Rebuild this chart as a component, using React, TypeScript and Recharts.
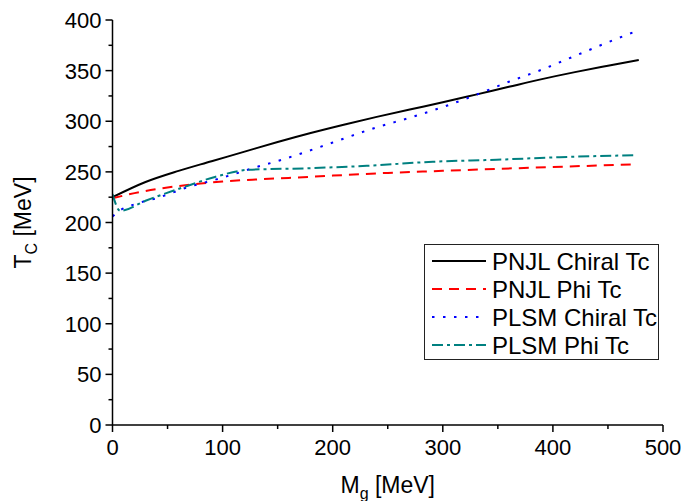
import React from 'react';
import { LineChart, Line, XAxis, YAxis } from 'recharts';

// ---- Data ----
const pnjlChiralX = [0, 30, 60, 90, 120, 150, 180, 210, 240, 270, 300, 330, 360, 390, 420, 450, 478];
const pnjlChiralY = [225, 240, 251, 260.5, 270, 279.5, 288.4, 296.6, 304.3, 311.6, 318.7, 326.3, 334, 341.6, 348.5, 354.8, 360.5];

const pnjlPhiX = [0, 20, 40, 60, 80, 100, 130, 160, 200, 250, 300, 350, 400, 474];
const pnjlPhiY = [224, 229, 233, 236, 238.5, 240.5, 242.5, 244, 246.3, 249, 251, 253, 254.8, 257.5];

const plsmChiralX = [0, 7, 20, 40, 70, 90, 110, 130, 150, 170, 200, 240, 270, 300, 330, 360, 390, 420, 450, 478];
const plsmChiralY = [206, 212, 218, 224, 235.4, 241.3, 247.6, 254.5, 260.7, 267.7, 279, 294, 303.5, 314, 326, 339, 351, 364.5, 378, 390];

const plsmPhiX = [0, 7, 30, 65, 93, 123, 175, 231, 291, 349, 406, 476];
const plsmPhiY = [228, 211.5, 221.5, 235, 245, 252, 253.5, 256, 260, 262, 264.5, 266.5];

const xTicks = [0, 50, 100, 150, 200, 250, 300, 350, 400, 450, 500];
const yTicks = [0, 25, 50, 75, 100, 125, 150, 175, 200, 225, 250, 275, 300, 325, 350, 375, 400];

const seriesNames = ['PNJL Chiral Tc', 'PNJL Phi Tc', 'PLSM Chiral Tc', 'PLSM Phi Tc'];

const toPoints = (xs: number[], ys: number[]) => xs.map((x, i) => ({ x, y: ys[i] }));

const FONT = '"Liberation Sans", Arial, sans-serif';

const styles = [
  { color: '#000000', dash: undefined as string | undefined },
  { color: '#ff0000', dash: '10 7' },
  { color: '#0000ff', dash: '2.5 8.5' },
  { color: '#008080', dash: '11 4 3 4' },
];

const XTick = (props: any) => {
  const { x, y, payload } = props;
  const major = payload.value % 100 === 0;
  return (
    <g>
      <line x1={x} x2={x} y1={y} y2={y + (major ? 7 : 4)} stroke="#000" strokeWidth={1.5} />
      {major && (
        <text x={x} y={y + 30} textAnchor="middle" fontFamily={FONT} fontSize={22} fill="#000">
          {payload.value}
        </text>
      )}
    </g>
  );
};

const YTick = (props: any) => {
  const { x, y, payload } = props;
  const major = payload.value % 50 === 0;
  return (
    <g>
      <line x1={x} x2={x - (major ? 7 : 4)} y1={y} y2={y} stroke="#000" strokeWidth={1.5} />
      {major && (
        <text x={x - 11} y={y + 8} textAnchor="end" fontFamily={FONT} fontSize={22} fill="#000">
          {payload.value}
        </text>
      )}
    </g>
  );
};

const YTitle = (props: any) => {
  const vb = props.viewBox || { x: 0, y: 0, width: 0, height: 0 };
  const cx = 31;
  const cy = vb.y + vb.height / 2;
  return (
    <text
      x={cx}
      y={cy}
      textAnchor="middle"
      transform={`rotate(-90, ${cx}, ${cy})`}
      fontFamily={FONT}
      fontSize={23}
      fill="#000"
    >
      T<tspan dy={6} fontSize={16}>C</tspan>
      <tspan dy={-6}> [MeV]</tspan>
    </text>
  );
};

const XTitle = (props: any) => {
  const vb = props.viewBox || { x: 0, y: 0, width: 0, height: 0 };
  const cx = vb.x + vb.width / 2;
  return (
    <text x={cx} y={493} textAnchor="middle" fontFamily={FONT} fontSize={23} fill="#000">
      M<tspan dy={6} fontSize={16}>g</tspan>
      <tspan dy={-6}> [MeV]</tspan>
    </text>
  );
};

const LegendBox = () => (
  <div
    style={{
      position: 'absolute',
      left: 424,
      top: 244,
      width: 235,
      height: 116,
      boxSizing: 'border-box',
      border: '1px solid #222',
      background: '#fff',
    }}
  >
    <svg width={233} height={114} style={{ display: 'block' }}>
      {seriesNames.map((name, i) => {
        const cy = 16 + i * 28;
        return (
          <g key={name}>
            <line
              x1={7}
              x2={61}
              y1={cy}
              y2={cy}
              stroke={styles[i].color}
              strokeWidth={2}
              strokeDasharray={styles[i].dash}
            />
            <text x={67} y={cy + 8.5} fontFamily={FONT} fontSize={24} fill="#000">
              {name}
            </text>
          </g>
        );
      })}
    </svg>
  </div>
);

const seriesData = [
  toPoints(pnjlChiralX, pnjlChiralY),
  toPoints(pnjlPhiX, pnjlPhiY),
  toPoints(plsmChiralX, plsmChiralY),
  toPoints(plsmPhiX, plsmPhiY),
];

export default function App() {
  return (
    <div style={{ position: 'absolute', left: 0, top: 0, width: 681, height: 501, background: '#fff' }}>
      <LineChart width={681} height={501} margin={{ top: 20, right: 18, bottom: 46, left: 52.5 }}>
        <XAxis
          type="number"
          dataKey="x"
          domain={[0, 500]}
          ticks={xTicks}
          interval={0}
          height={30}
          tickSize={0}
          tickMargin={0}
          tickLine={false}
          tick={<XTick />}
          axisLine={{ stroke: '#000', strokeWidth: 1.5 }}
          allowDataOverflow
          label={{ content: <XTitle /> }}
        />
        <YAxis
          type="number"
          dataKey="y"
          domain={[0, 400]}
          ticks={yTicks}
          interval={0}
          width={60}
          tickSize={0}
          tickMargin={0}
          tickLine={false}
          tick={<YTick />}
          axisLine={{ stroke: '#000', strokeWidth: 1.5 }}
          allowDataOverflow
          label={{ content: <YTitle /> }}
        />
        {seriesData.map((d, i) => (
          <Line
            key={seriesNames[i]}
            data={d}
            dataKey="y"
            name={seriesNames[i]}
            type="monotone"
            stroke={styles[i].color}
            strokeWidth={2}
            strokeDasharray={styles[i].dash}
            dot={false}
            activeDot={false}
            isAnimationActive={false}
          />
        ))}
      </LineChart>
      <LegendBox />
    </div>
  );
}
